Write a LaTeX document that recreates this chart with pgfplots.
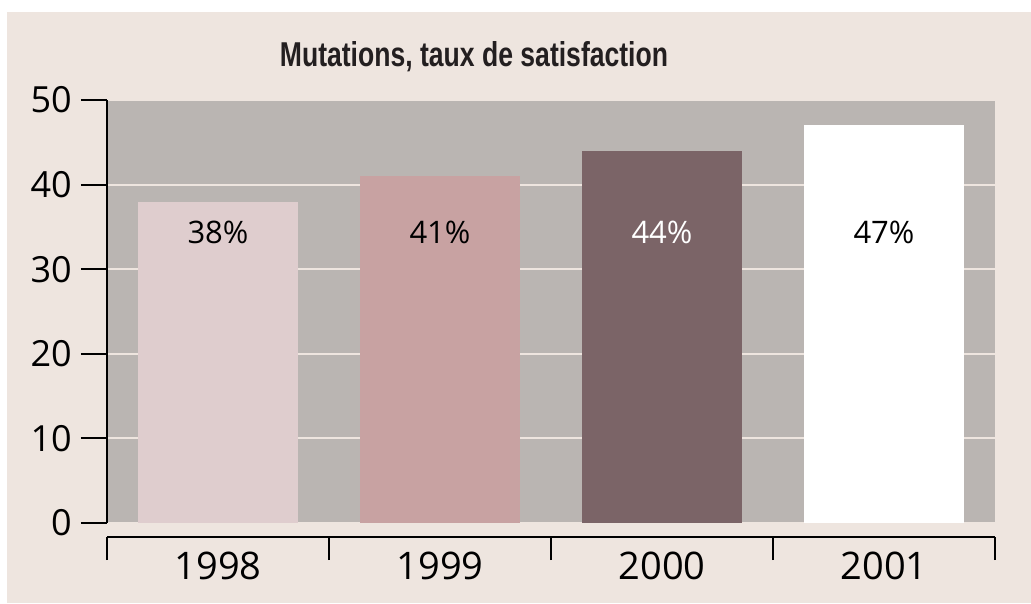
\documentclass[border=0pt]{standalone}
\usepackage{fontspec}
\setmainfont{Open Sans}
\newfontfamily\titlefont{Liberation Sans}
\usepackage{graphicx}
\usepackage{pgfplots}
\pgfplotsset{compat=1.18}
\definecolor{bgbeige}{HTML}{EEE5DF}
\definecolor{plotgray}{HTML}{BAB5B2}
\definecolor{barA}{HTML}{DFCDCE}
\definecolor{barB}{HTML}{C8A2A2}
\definecolor{barC}{HTML}{7B6467}
\begin{document}
\begin{tikzpicture}[x=1pt,y=1pt]
\fill[white] (0,0) rectangle (1031,603);
\fill[bgbeige] (7,0) rectangle (1031,591);
\node[anchor=base, inner sep=0pt, text={rgb,255:red,35;green,31;blue,32}] at (474,536.3) {\scalebox{0.77}[1]{\titlefont\bfseries\fontsize{34.5}{34.5}\selectfont Mutations, taux de satisfaction}};
\begin{axis}[
  at={(107pt,80pt)}, anchor=south west, scale only axis,
  width=888pt, height=423pt,
  xmin=-0.5, xmax=3.5, ymin=0, ymax=50,
  hide x axis,
  axis y line*=left,
  y axis line style={line width=2pt, black},
  ytick={0,10,...,50},
  tick align=outside,
  major tick length=26pt,
  ytick style={line width=2pt, black},
  yticklabel style={font=\fontsize{36}{36}\selectfont, inner sep=0pt, anchor=east, xshift=-9pt},
  /pgf/number format/assume math mode=true,
  ymajorgrids, major grid style={bgbeige, line width=2pt},
  axis background/.style={fill=plotgray},
  ybar, bar width=160pt,
  every node near coord/.append style={anchor=center, inner sep=0pt, font=\fontsize{31}{31}\selectfont},
]
\addplot[fill=barA, draw=none, bar shift=0pt] coordinates {(0,38)};
\addplot[fill=barB, draw=none, bar shift=0pt] coordinates {(1,41)};
\addplot[fill=barC, draw=none, bar shift=0pt] coordinates {(2,44)};
\addplot[fill=white, draw=none, bar shift=0pt] coordinates {(3,47)};
% labels at a fixed height inside the bars
\addplot[draw=none, fill=none, bar shift=0pt, point meta=explicit symbolic, nodes near coords] coordinates {(0,34.4) [38\%] (1,34.4) [41\%] (3,34.4) [47\%]};
\addplot[draw=none, fill=none, bar shift=0pt, point meta=explicit symbolic, nodes near coords, every node near coord/.append style={text=white}] coordinates {(2,34.4) [44\%]};
\end{axis}
\begin{axis}[
  at={(107pt,66pt)}, anchor=south west, scale only axis,
  width=888pt, height=10pt,
  xmin=-0.5, xmax=3.5, ymin=0, ymax=1,
  axis x line*=bottom, hide y axis,
  x axis line style={line width=2pt, black},
  xtick={0,1,2,3}, xticklabels={1998,1999,2000,2001},
  major tick length=0pt,
  minor xtick={-0.5,0.5,1.5,2.5,3.5},
  minor tick length=23pt,
  tick align=outside,
  minor x tick style={line width=2pt, black},
  xticklabel style={font=\fontsize{38}{38}\selectfont, inner sep=0pt, anchor=base, yshift=-42pt},
]
\end{axis}
\end{tikzpicture}
\end{document}
